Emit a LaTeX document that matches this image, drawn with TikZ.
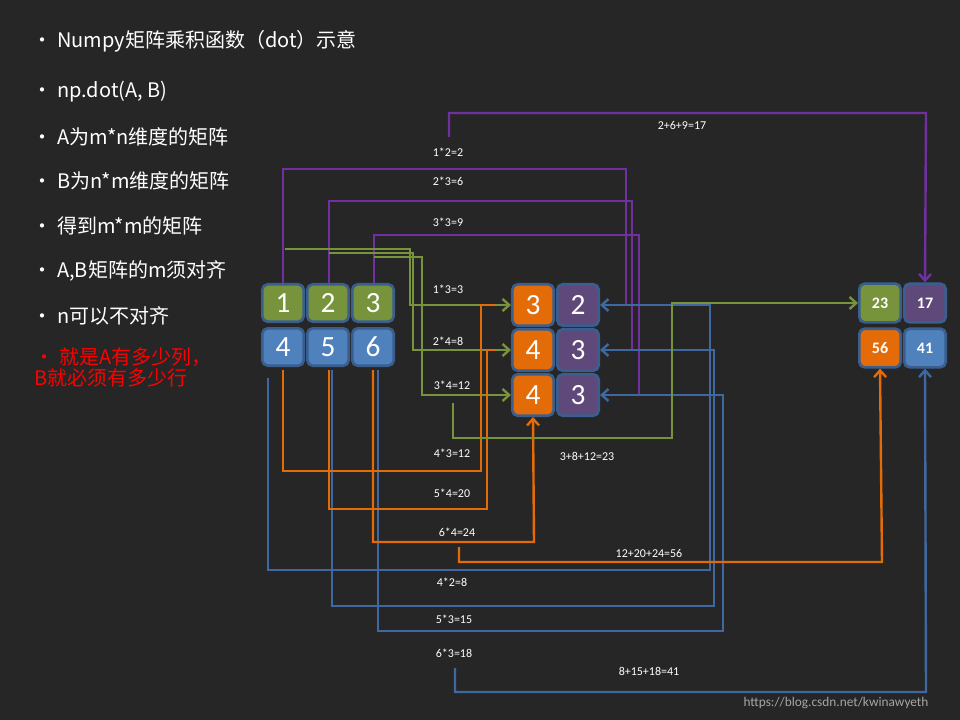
\documentclass[tikz,border=0pt]{standalone}
\usepackage{fontspec}
\setmainfont{Carlito}
\newfontfamily\cjk{Noto Sans CJK SC}
\usetikzlibrary{arrows.meta}
\definecolor{bg}{HTML}{262626}
\definecolor{pur}{HTML}{7030A0}
\definecolor{grn}{HTML}{77933C}
\definecolor{org}{HTML}{E36C09}
\definecolor{blu}{HTML}{4F81BD}
\definecolor{bline}{HTML}{3F68A2}
\definecolor{bord}{HTML}{3A5F8F}
\definecolor{vio}{HTML}{5F497A}
\begin{document}
\begin{tikzpicture}[x=0.75pt,y=-0.75pt,
  cellA/.style={draw=bord,line width=2pt,rounded corners=4pt,minimum width=31pt,minimum height=28pt,inner sep=0pt,text=white,font=\fontsize{22}{22}\selectfont},
  cellB/.style={cellA,minimum height=31pt},
  cellC/.style={cellA,minimum height=29pt,font=\fontsize{12}{12}\selectfont\bfseries},
  ln/.style={line width=1.8pt},
  ar/.style={ln,-{Straight Barb[length=5pt,width=9pt]}},
  lab/.style={text=white,font=\fontsize{9}{10}\selectfont},
  txt/.style={text=white,anchor=west,font=\cjk\fontsize{15}{16}\selectfont}]
\fill[bg] (0,0) rectangle (960,720);
\useasboundingbox (0,0) rectangle (960,720);
% left text
\node[txt] (t1) at (28,41) {· Numpy矩阵乘积函数（dot）示意};
\node[txt] (t2) at (28,92) {· np.dot(A, B)};
\node[txt] (t3) at (28,137) {· A为m*n维度的矩阵};
\node[txt] (t4) at (28,181) {· B为n*m维度的矩阵};
\node[txt] (t5) at (28,226) {· 得到m*m的矩阵};
\node[txt] (t6) at (28,271) {· A,B矩阵的m须对齐};
\node[txt] (t7) at (28,316) {· n可以不对齐};
\node[txt,text=red,align=left,anchor=north west] (t8) at (30,343) {· 就是A有多少列，\\B就必须有多少行};
% connectors behind
\coordinate (p1) at (449,137);
\draw[pur,ln] (283,285) |- (626,169) -- (626,305);
\draw[pur,ln] (329,285) |- (632,201) -- (632,350);
\draw[pur,ln] (374,285) |- (639,235) -- (639,395);
\draw[grn,ln] (285,249) -| (410,305) -- (500,305);
\draw[grn,ln] (329,253) -| (413,350) -- (500,350);
\draw[grn,ln] (374,257) -| (422,395) -- (500,395);
\draw[bline,ln] (268,378) |- (710,570) |- (615,305);
\draw[bline,ln] (332,370) |- (714,606) |- (615,350);
\draw[bline,ln] (378,370) |- (723,631) |- (615,395);
\draw[org,ln] (283,370) |- (481,471) |- (500,305);
\draw[org,ln] (329,370) |- (487,509) |- (500,350);
% matrices
\node[cellA,fill=grn] (a1) at (283,303) {1};
\node[cellA,fill=grn] (a2) at (328,303) {2};
\node[cellA,fill=grn] (a3) at (373,303) {3};
\node[cellA,fill=blu] (a4) at (283,347) {4};
\node[cellA,fill=blu] (a5) at (328,347) {5};
\node[cellA,fill=blu] (a6) at (373,347) {6};
\node[cellB,fill=org] (b00) at (533,305) {3};
\node[cellB,fill=vio] (b01) at (578,305) {2};
\node[cellB,fill=org] (b10) at (533,350) {4};
\node[cellB,fill=vio] (b11) at (578,350) {3};
\node[cellB,fill=org] (b20) at (533,395) {4};
\node[cellB,fill=vio] (b21) at (578,395) {3};
\node[cellC,fill=grn] (c00) at (880,303) {23};
\node[cellC,fill=vio] (c01) at (925,303) {17};
\node[cellC,fill=org] (c10) at (880,348) {56};
\node[cellC,fill=blu] (c11) at (925,348) {41};
% arrow heads into B
\draw[grn,ar] (495,305) -- (b00.west);
\draw[grn,ar] (495,350) -- (b10.west);
\draw[grn,ar] (495,395) -- (b20.west);
\draw[bline,ar] (620,305) -- (b01.east);
\draw[bline,ar] (620,350) -- (b11.east);
\draw[bline,ar] (620,395) -- (b21.east);
\draw[org,ar] (373,370) |- (534,542) -- (b20.south);
% sums
\draw[pur,ar] (p1) |- (926,113) -- (c01.north);
\draw[grn,ar] (453,403) |- (672,438) |- (c00.west);
\draw[org,ar] (459,547) |- (882,562) -- (c10.south);
\draw[bline,ar] (455,668) |- (926,692) -- (c11.south);
% labels
\node[lab] (l1) at (448,152) {1*2=2};
\node[lab] (l2) at (448,181) {2*3=6};
\node[lab] (l3) at (448,222) {3*3=9};
\node[lab] (l4) at (682,125) {2+6+9=17};
\node[lab] (l5) at (448,289) {1*3=3};
\node[lab] (l6) at (448,341) {2*4=8};
\node[lab] (l7) at (452,385) {3*4=12};
\node[lab] (l8) at (452,453) {4*3=12};
\node[lab] (l9) at (587,456) {3+8+12=23};
\node[lab] (l10) at (452,493) {5*4=20};
\node[lab] (l11) at (457,532) {6*4=24};
\node[lab] (l12) at (649,553) {12+20+24=56};
\node[lab] (l13) at (452,582) {4*2=8};
\node[lab] (l14) at (454,619) {5*3=15};
\node[lab] (l15) at (454,653) {6*3=18};
\node[lab] (l16) at (649,671) {8+15+18=41};
\node[text=gray!70,font=\fontsize{10}{10}\selectfont] (wm) at (836,703) {https://blog.csdn.net/kwinawyeth};
\end{tikzpicture}
\end{document}
